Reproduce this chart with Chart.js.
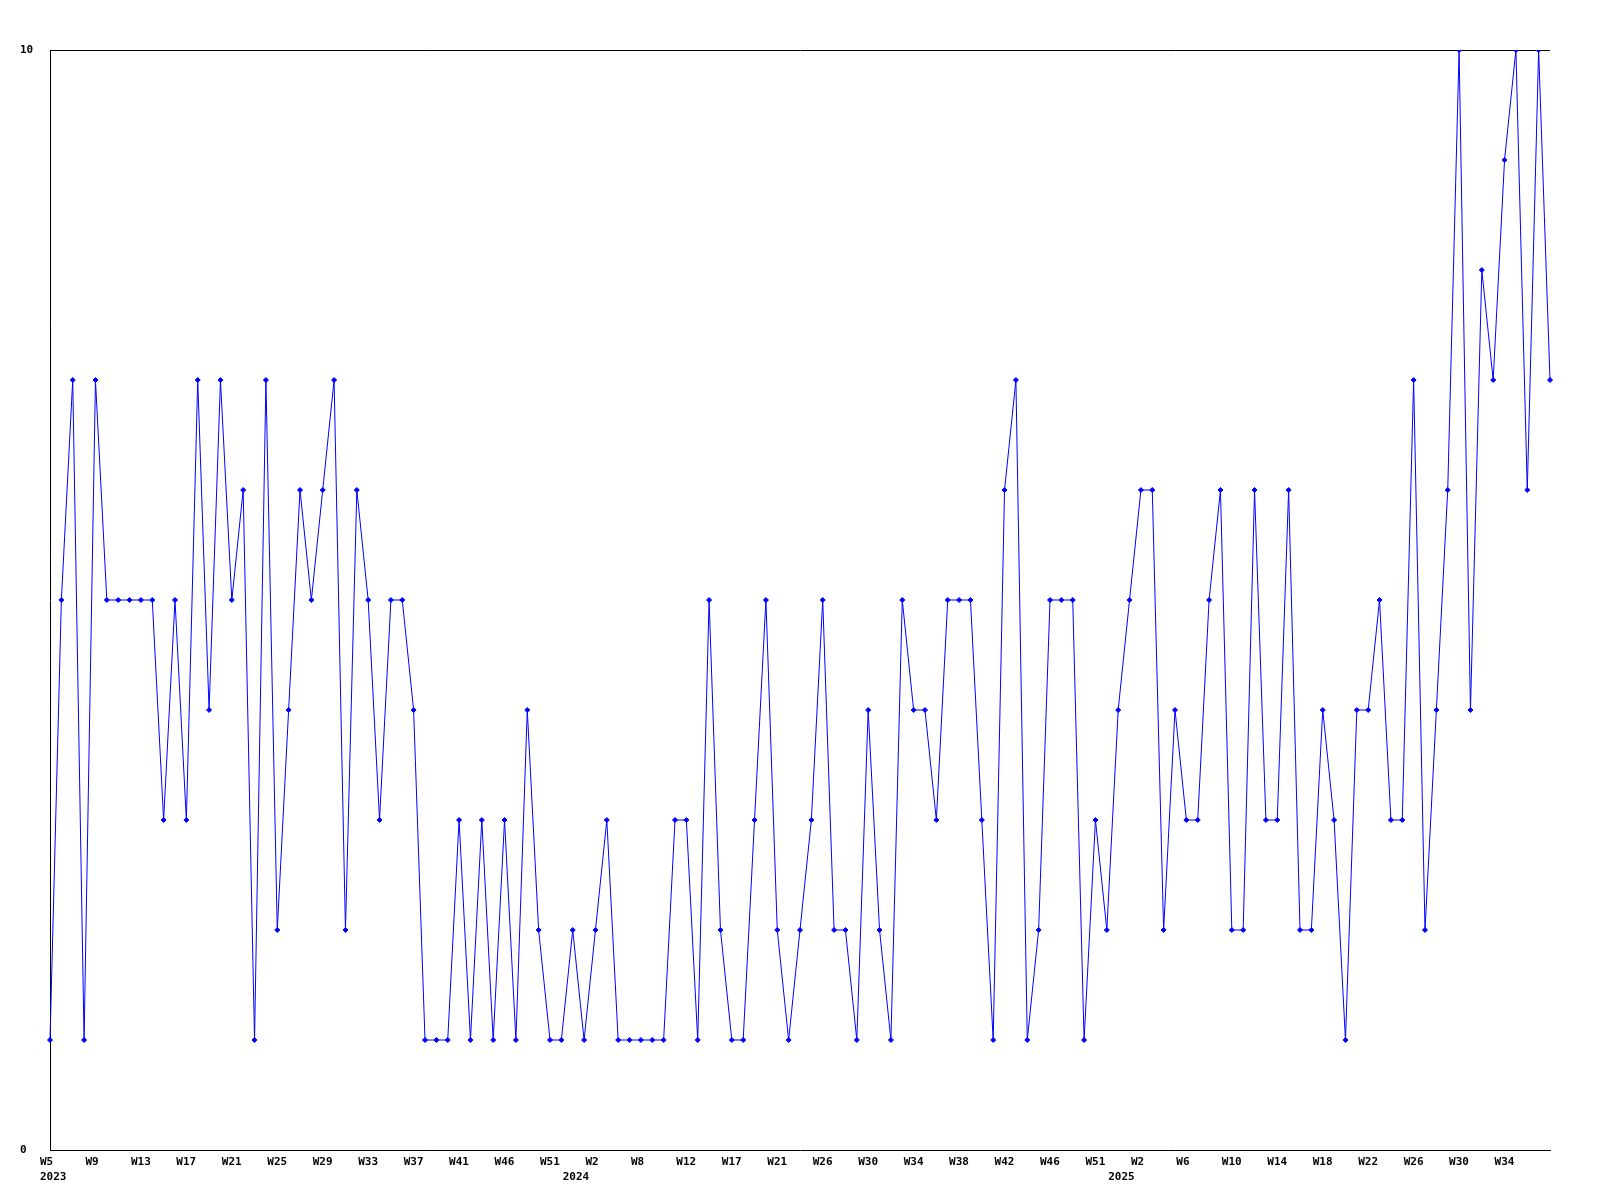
<!DOCTYPE html>
<html>
<head>
<meta charset="utf-8">
<title>Weekly count</title>
<script src="https://cdn.jsdelivr.net/npm/chart.js@4/dist/chart.umd.min.js"></script>
<style>
    body { margin: 0; background: #ffffff; }
    #wrap { width: 1600px; height: 1200px; }
</style>
</head>
<body>
<div id="wrap"><canvas id="weeklyChart"></canvas></div>
<script>
// week label for every point (some weeks are missing in the data)
const weeks = [
    "W5", "W6", "W7", "W8", "W9", "W10", "W11", "W12", "W13", "W14",
    "W15", "W16", "W17", "W18", "W19", "W20", "W21", "W22", "W23", "W24",
    "W25", "W26", "W27", "W28", "W29", "W30", "W31", "W32", "W33", "W34",
    "W35", "W36", "W37", "W38", "W39", "W40", "W41", "W42", "W43", "W45",
    "W46", "W47", "W48", "W50", "W51", "W52", "W1", "W1", "W2", "W3",
    "W5", "W7", "W8", "W9", "W10", "W11", "W12", "W13", "W15", "W16",
    "W17", "W18", "W19", "W20", "W21", "W22", "W23", "W25", "W26", "W27",
    "W28", "W29", "W30", "W31", "W32", "W33", "W34", "W35", "W36", "W37",
    "W38", "W39", "W40", "W41", "W42", "W43", "W44", "W45", "W46", "W47",
    "W48", "W50", "W51", "W52", "W1", "W1", "W2", "W3", "W4", "W5",
    "W6", "W7", "W8", "W9", "W10", "W11", "W12", "W13", "W14", "W15",
    "W16", "W17", "W18", "W19", "W20", "W21", "W22", "W23", "W24", "W25",
    "W26", "W27", "W28", "W29", "W30", "W31", "W32", "W33", "W34", "W35",
    "W36", "W37", "W38"
];

// index of the first point of each year, and the year shown under it
const yearStarts = [0, 46, 94];
const yearLabels = ["2023", "2024", "2025"];

const counts = [
    1, 5, 7, 1, 7, 5, 5, 5, 5, 5,
    3, 5, 3, 7, 4, 7, 5, 6, 1, 7,
    2, 4, 6, 5, 6, 7, 2, 6, 5, 3,
    5, 5, 4, 1, 1, 1, 3, 1, 3, 1,
    3, 1, 4, 2, 1, 1, 2, 1, 2, 3,
    1, 1, 1, 1, 1, 3, 3, 1, 5, 2,
    1, 1, 3, 5, 2, 1, 2, 3, 5, 2,
    2, 1, 4, 2, 1, 5, 4, 4, 3, 5,
    5, 5, 3, 1, 6, 7, 1, 2, 5, 5,
    5, 1, 3, 2, 4, 5, 6, 6, 2, 4,
    3, 3, 5, 6, 2, 2, 6, 3, 3, 6,
    2, 2, 4, 3, 1, 4, 4, 5, 3, 3,
    7, 2, 4, 6, 10, 4, 8, 7, 9, 10,
    6, 10, 7
];

const yTicks = [0, 10];

const labelFont = { family: "'DejaVu Sans Mono', monospace", size: 11, weight: "bold", lineHeight: "15px" };

document.addEventListener("DOMContentLoaded", () => {
    new Chart(document.getElementById("weeklyChart"), {
        type: "line",
        data: {
            labels: weeks,
            datasets: [{
                data: counts,
                borderColor: "#0000ff",
                backgroundColor: "#0000ff",
                borderWidth: 1,
                pointStyle: "rectRot",
                pointRadius: 2.5,
                pointBorderWidth: 1,
                pointBorderColor: "#0000ff",
                pointBackgroundColor: "#0000ff",
                tension: 0,
                fill: false
            }]
        },
        options: {
            responsive: true,
            maintainAspectRatio: false,
            animation: false,
            layout: {
                padding: { left: 20, right: 50, top: 50, bottom: 10 }
            },
            plugins: {
                legend: { display: false },
                tooltip: { enabled: false }
            },
            scales: {
                x: {
                    grid: { display: false, drawTicks: false },
                    border: { display: true, color: "#000000", width: 1 },
                    ticks: {
                        autoSkip: false,
                        maxRotation: 0,
                        minRotation: 0,
                        align: "start",
                        labelOffset: -10,
                        padding: 5,
                        color: "#000000",
                        font: labelFont,
                        callback: function (value, index) {
                            const yi = yearStarts.indexOf(index);
                            let week = "";
                            if (index % 4 === 0 && index < weeks.length - 1) week = weeks[index];
                            if (yi !== -1) return [week, yearLabels[yi]];
                            return week;
                        }
                    }
                },
                y: {
                    min: 0,
                    max: 10,
                    afterBuildTicks: (axis) => {
                        axis.ticks = yTicks.map(v => ({ value: v }));
                    },
                    afterFit: (axis) => {
                        axis.width = 30;
                    },
                    grid: {
                        drawTicks: false,
                        color: (ctx) => ctx.tick && ctx.tick.value === 10 ? "#000000" : "rgba(0,0,0,0)"
                    },
                    border: { display: true, color: "#000000", width: 1 },
                    ticks: {
                        crossAlign: "far",
                        padding: 4,
                        color: "#000000",
                        font: labelFont
                    }
                }
            }
        }
    });
});
</script>
</body>
</html>
